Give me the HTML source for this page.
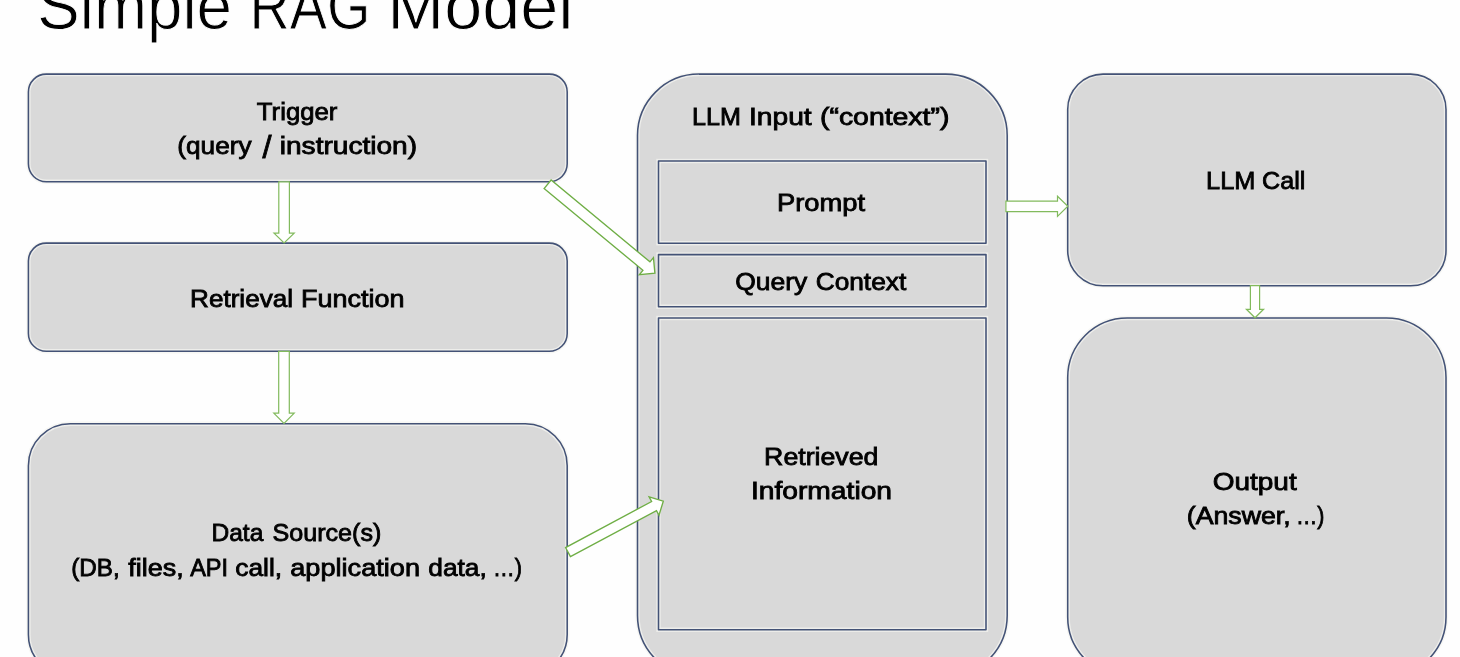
<!DOCTYPE html>
<html lang="en">
<head>
<meta charset="utf-8">
<title>Simple RAG Model</title>
<style>
html,body{margin:0;padding:0;background:#fefefe;}
body{width:1460px;height:657px;overflow:hidden;font-family:"Liberation Sans",sans-serif;}
svg{display:block;}
text{font-family:"Liberation Sans",sans-serif;fill:#000;white-space:pre;}
.txt{filter:blur(0.5px);}
.t{stroke:#000;stroke-width:0.85px;}
.h{stroke:#fefefe;stroke-width:0.9px;}
</style>
</head>
<body>
<svg width="1460" height="657" viewBox="0 0 1460 657">
<rect x="0" y="0" width="1460" height="657" fill="#fefefe"/>
<rect x="28.4" y="74.1" width="538.8" height="107.6" rx="17.9" ry="17.9" fill="#d9d9d9" stroke="#f4f4f0" stroke-opacity="0.75" stroke-width="4.4"/><rect x="28.4" y="74.1" width="538.8" height="107.6" rx="17.9" ry="17.9" fill="none" stroke="#435276" stroke-width="1.55" stroke-linejoin="round"/>
<rect x="28.4" y="243.1" width="538.8" height="108.2" rx="17.9" ry="17.9" fill="#d9d9d9" stroke="#f4f4f0" stroke-opacity="0.75" stroke-width="4.4"/><rect x="28.4" y="243.1" width="538.8" height="108.2" rx="17.9" ry="17.9" fill="none" stroke="#435276" stroke-width="1.55" stroke-linejoin="round"/>
<rect x="28.4" y="423.8" width="538.8" height="252.5" rx="41.9" ry="41.9" fill="#d9d9d9" stroke="#f4f4f0" stroke-opacity="0.75" stroke-width="4.4"/><rect x="28.4" y="423.8" width="538.8" height="252.5" rx="41.9" ry="41.9" fill="none" stroke="#435276" stroke-width="1.55" stroke-linejoin="round"/>
<rect x="637.5" y="74.1" width="369.7" height="602.9" rx="61.5" ry="61.5" fill="#d9d9d9" stroke="#f4f4f0" stroke-opacity="0.75" stroke-width="4.4"/><rect x="637.5" y="74.1" width="369.7" height="602.9" rx="61.5" ry="61.5" fill="none" stroke="#435276" stroke-width="1.55" stroke-linejoin="round"/>
<rect x="658.5" y="161.0" width="327.5" height="82.2" rx="0" ry="0" fill="#d9d9d9" stroke="#f4f4f0" stroke-opacity="0.75" stroke-width="4.4"/><rect x="658.5" y="161.0" width="327.5" height="82.2" rx="0" ry="0" fill="none" stroke="#435276" stroke-width="1.55" stroke-linejoin="round"/>
<rect x="658.5" y="254.6" width="327.5" height="52.1" rx="0" ry="0" fill="#d9d9d9" stroke="#f4f4f0" stroke-opacity="0.75" stroke-width="4.4"/><rect x="658.5" y="254.6" width="327.5" height="52.1" rx="0" ry="0" fill="none" stroke="#435276" stroke-width="1.55" stroke-linejoin="round"/>
<rect x="658.5" y="318.0" width="327.5" height="311.7" rx="0" ry="0" fill="#d9d9d9" stroke="#f4f4f0" stroke-opacity="0.75" stroke-width="4.4"/><rect x="658.5" y="318.0" width="327.5" height="311.7" rx="0" ry="0" fill="none" stroke="#435276" stroke-width="1.55" stroke-linejoin="round"/>
<rect x="1067.7" y="74.1" width="378.3" height="211.7" rx="35.3" ry="35.3" fill="#d9d9d9" stroke="#f4f4f0" stroke-opacity="0.75" stroke-width="4.4"/><rect x="1067.7" y="74.1" width="378.3" height="211.7" rx="35.3" ry="35.3" fill="none" stroke="#435276" stroke-width="1.55" stroke-linejoin="round"/>
<rect x="1067.7" y="318.0" width="378.3" height="358.6" rx="59.5" ry="59.5" fill="#d9d9d9" stroke="#f4f4f0" stroke-opacity="0.75" stroke-width="4.4"/><rect x="1067.7" y="318.0" width="378.3" height="358.6" rx="59.5" ry="59.5" fill="none" stroke="#435276" stroke-width="1.55" stroke-linejoin="round"/>
<polygon points="278.80,181.80 278.80,233.20 274.00,233.20 284.10,243.00 294.20,233.20 289.40,233.20 289.40,181.80" fill="#ffffff" stroke="#82ba5d" stroke-width="1.2" stroke-linejoin="miter"/>
<polygon points="278.70,351.40 278.70,413.20 273.80,413.20 284.00,423.50 294.20,413.20 289.30,413.20 289.30,351.40" fill="#ffffff" stroke="#82ba5d" stroke-width="1.2" stroke-linejoin="miter"/>
<polygon points="544.09,188.54 642.92,270.32 639.41,274.56 654.90,273.10 653.44,257.61 649.93,261.85 551.11,180.06" fill="#ffffff" stroke="#6fae45" stroke-width="1.35" stroke-linejoin="miter"/>
<polygon points="570.43,556.64 656.47,510.59 659.00,515.31 663.30,501.10 649.09,496.80 651.61,501.51 565.57,547.56" fill="#ffffff" stroke="#6fae45" stroke-width="1.35" stroke-linejoin="miter"/>
<polygon points="1005.90,211.55 1057.50,211.55 1057.50,216.40 1067.80,206.30 1057.50,196.20 1057.50,201.05 1005.90,201.05" fill="#ffffff" stroke="#82ba5d" stroke-width="1.2" stroke-linejoin="miter"/>
<polygon points="1250.40,285.60 1250.40,309.30 1246.40,309.30 1255.00,317.80 1263.60,309.30 1259.60,309.30 1259.60,285.60" fill="#ffffff" stroke="#82ba5d" stroke-width="1.2" stroke-linejoin="miter"/>
<g class="txt">
<text class="h" font-size="66" aria-label="Simple RAG Model"><tspan x="37.24" y="28.8" textLength="194.74" lengthAdjust="spacingAndGlyphs">Simple</tspan> <tspan x="249.4" y="28.8" textLength="120.91" lengthAdjust="spacingAndGlyphs">RAG</tspan> <tspan x="387.32" y="28.8" textLength="186.22" lengthAdjust="spacingAndGlyphs">Model</tspan></text>
<text class="t" font-size="24.6" aria-label="Trigger"><tspan x="256.88" y="119.7" textLength="80.43" lengthAdjust="spacingAndGlyphs">Trigger</tspan></text>
<text class="t" font-size="24.6" aria-label="(query / instruction)"><tspan x="177.34" y="153.6" textLength="74.19" lengthAdjust="spacingAndGlyphs">(query</tspan> <tspan x="262.5" y="158.2" font-size="30.5" textLength="9.04" lengthAdjust="spacingAndGlyphs">/</tspan> <tspan x="279.75" y="153.6" textLength="137.3" lengthAdjust="spacingAndGlyphs">instruction)</tspan></text>
<text class="t" font-size="24.6" aria-label="Retrieval Function"><tspan x="190.05" y="306.6" textLength="102.96" lengthAdjust="spacingAndGlyphs">Retrieval</tspan> <tspan x="301.06" y="306.6" textLength="103.49" lengthAdjust="spacingAndGlyphs">Function</tspan></text>
<text class="t" font-size="24.6" aria-label="Data Source(s)"><tspan x="211.5" y="541.4" textLength="51.82" lengthAdjust="spacingAndGlyphs">Data</tspan> <tspan x="272.51" y="541.4" textLength="108.81" lengthAdjust="spacingAndGlyphs">Source(s)</tspan></text>
<text class="t" font-size="24.6" aria-label="(DB, files, API call, application data, …)"><tspan x="71.27" y="576.2" textLength="48.36" lengthAdjust="spacingAndGlyphs">(DB,</tspan> <tspan x="128.33" y="576.2" textLength="55.32" lengthAdjust="spacingAndGlyphs">files,</tspan> <tspan x="190.16" y="576.2" textLength="37.89" lengthAdjust="spacingAndGlyphs">API</tspan> <tspan x="235.27" y="576.2" textLength="46.88" lengthAdjust="spacingAndGlyphs">call,</tspan> <tspan x="290.25" y="576.2" textLength="129.77" lengthAdjust="spacingAndGlyphs">application</tspan> <tspan x="428.3" y="576.2" textLength="58.48" lengthAdjust="spacingAndGlyphs">data,</tspan> <tspan x="493" y="576.2" textLength="28.92" lengthAdjust="spacingAndGlyphs">…)</tspan></text>
<text class="t" font-size="24.6" aria-label="LLM Input (“context”)"><tspan x="692.12" y="124.7" textLength="48.88" lengthAdjust="spacingAndGlyphs">LLM</tspan> <tspan x="749" y="124.7" textLength="62.66" lengthAdjust="spacingAndGlyphs">Input</tspan> <tspan x="820" y="124.7" textLength="129.38" lengthAdjust="spacingAndGlyphs">(“context”)</tspan></text>
<text class="t" font-size="24.6" aria-label="Prompt"><tspan x="777" y="210.9" textLength="88.14" lengthAdjust="spacingAndGlyphs">Prompt</tspan></text>
<text class="t" font-size="24.6" aria-label="Query Context"><tspan x="735.17" y="289.9" textLength="72.04" lengthAdjust="spacingAndGlyphs">Query</tspan> <tspan x="815.67" y="289.9" textLength="90.54" lengthAdjust="spacingAndGlyphs">Context</tspan></text>
<text class="t" font-size="24.6" aria-label="Retrieved"><tspan x="764.14" y="465.1" textLength="114.31" lengthAdjust="spacingAndGlyphs">Retrieved</tspan></text>
<text class="t" font-size="24.6" aria-label="Information"><tspan x="750.92" y="499.2" textLength="141.15" lengthAdjust="spacingAndGlyphs">Information</tspan></text>
<text class="t" font-size="24.6" aria-label="LLM Call"><tspan x="1206.14" y="189.1" textLength="49.25" lengthAdjust="spacingAndGlyphs">LLM</tspan> <tspan x="1262.04" y="189.1" textLength="43.32" lengthAdjust="spacingAndGlyphs">Call</tspan></text>
<text class="t" font-size="24.6" aria-label="Output"><tspan x="1212.73" y="489.5" textLength="83.95" lengthAdjust="spacingAndGlyphs">Output</tspan></text>
<text class="t" font-size="24.6" aria-label="(Answer, …)"><tspan x="1186.79" y="523.6" textLength="103.88" lengthAdjust="spacingAndGlyphs">(Answer,</tspan> <tspan x="1296" y="523.6" textLength="28.43" lengthAdjust="spacingAndGlyphs">…)</tspan></text>
</g>
</svg>
</body>
</html>
